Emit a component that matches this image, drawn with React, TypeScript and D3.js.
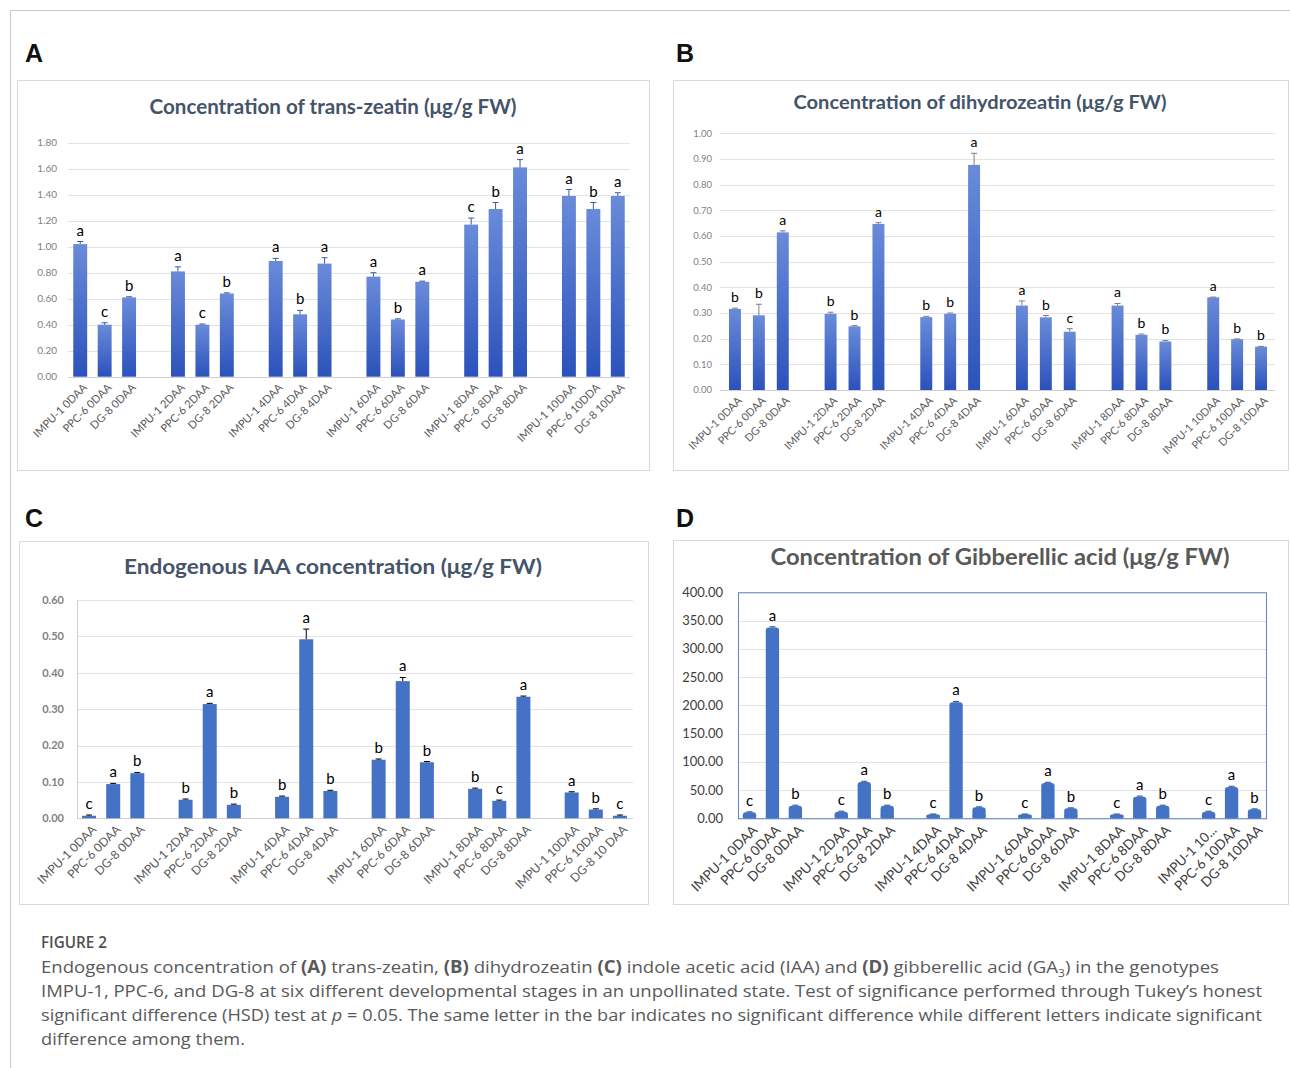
import * as d3 from 'd3';

// ---- data ----
const labelsA = [
  'IMPU-1 0DAA', 'PPC-6 0DAA', 'DG-8 0DAA',
  'IMPU-1 2DAA', 'PPC-6 2DAA', 'DG-8 2DAA',
  'IMPU-1 4DAA', 'PPC-6 4DAA', 'DG-8 4DAA',
  'IMPU-1 6DAA', 'PPC-6 6DAA', 'DG-8 6DAA',
  'IMPU-1 8DAA', 'PPC-6 8DAA', 'DG-8 8DAA',
  'IMPU-1 10DAA', 'PPC-6 10DDA', 'DG-8 10DAA',
];
const valuesA = [1.02, 0.40, 0.61, 0.81, 0.40, 0.64, 0.89, 0.48, 0.87, 0.77, 0.44, 0.73, 1.17, 1.29, 1.61, 1.39, 1.29, 1.39];
const errorsA = [0.02, 0.015, 0.005, 0.035, 0.005, 0.005, 0.02, 0.03, 0.045, 0.03, 0.005, 0.005, 0.05, 0.05, 0.06, 0.05, 0.05, 0.025];
const lettersA = ['a', 'c', 'b', 'a', 'c', 'b', 'a', 'b', 'a', 'a', 'b', 'a', 'c', 'b', 'a', 'a', 'b', 'a'];

const labelsB = [
  'IMPU-1 0DAA', 'PPC-6 0DAA', 'DG-8 0DAA',
  'IMPU-1 2DAA', 'PPC-6 2DAA', 'DG-8 2DAA',
  'IMPU-1 4DAA', 'PPC-6 4DAA', 'DG-8 4DAA',
  'IMPU-1 6DAA', 'PPC-6 6DAA', 'DG-8 6DAA',
  'IMPU-1 8DAA', 'PPC-6 8DAA', 'DG-8 8DAA',
  'IMPU-1 10DAA', 'PPC-6 10DAA', 'DG-8 10DAA',
];
const valuesB = [0.316, 0.291, 0.614, 0.297, 0.248, 0.647, 0.284, 0.297, 0.877, 0.329, 0.283, 0.227, 0.329, 0.215, 0.189, 0.361, 0.198, 0.169];
const errorsB = [0.003, 0.043, 0.006, 0.006, 0.003, 0.005, 0.003, 0.003, 0.045, 0.018, 0.007, 0.012, 0.008, 0.003, 0.004, 0.001, 0.001, 0.001];
const lettersB = ['b', 'b', 'a', 'b', 'b', 'a', 'b', 'b', 'a', 'a', 'b', 'c', 'a', 'b', 'b', 'a', 'b', 'b'];

const labelsC = [
  'IMPU-1 0DAA', 'PPC-6 0DAA', 'DG-8 0DAA',
  'IMPU-1 2DAA', 'PPC-6 2DAA', 'DG-8 2DAA',
  'IMPU-1 4DAA', 'PPC-6 4DAA', 'DG-8 4DAA',
  'IMPU-1 6DAA', 'PPC-6 6DAA', 'DG-8 6DAA',
  'IMPU-1 8DAA', 'PPC-6 8DAA', 'DG-8 8DAA',
  'IMPU-1 10DAA', 'PPC-6 10DAA', 'DG-8 10 DAA',
];
const valuesC = [0.007, 0.094, 0.124, 0.051, 0.314, 0.037, 0.059, 0.492, 0.075, 0.161, 0.377, 0.154, 0.081, 0.048, 0.334, 0.071, 0.024, 0.007];
const errorsC = [0.002, 0.002, 0.002, 0.002, 0.002, 0.002, 0.002, 0.028, 0.002, 0.002, 0.01, 0.002, 0.002, 0.002, 0.002, 0.002, 0.002, 0.002];
const lettersC = ['c', 'a', 'b', 'b', 'a', 'b', 'b', 'a', 'b', 'b', 'a', 'b', 'b', 'c', 'a', 'a', 'b', 'c'];

const labelsD = [
  'IMPU-1 0DAA', 'PPC-6 0DAA', 'DG-8 0DAA',
  'IMPU-1 2DAA', 'PPC-6 2DAA', 'DG-8 2DAA',
  'IMPU-1 4DAA', 'PPC-6 4DAA', 'DG-8 4DAA',
  'IMPU-1 6DAA', 'PPC-6 6DAA', 'DG-8 6DAA',
  'IMPU-1 8DAA', 'PPC-6 8DAA', 'DG-8 8DAA',
  'IMPU-1 10...', 'PPC-6 10DAA', 'DG-8 10DAA',
];
const valuesD = [10.6, 337.5, 22.4, 11.8, 64.3, 22.4, 7.1, 205.3, 19.5, 7.1, 62.5, 17.7, 7.1, 38.3, 22.4, 11.8, 55.5, 15.9];
const errorsD = [0.8, 1.5, 0.8, 0.8, 1.2, 0.8, 0.5, 1.5, 0.8, 0.5, 1.2, 0.8, 0.5, 1, 0.8, 0.8, 1.2, 0.8];
const lettersD = ['c', 'a', 'b', 'c', 'a', 'b', 'c', 'a', 'b', 'c', 'a', 'b', 'c', 'a', 'b', 'c', 'a', 'b'];

const titles = [
  'Concentration of trans-zeatin (μg/g FW)',
  'Concentration of dihydrozeatin (μg/g FW)',
  'Endogenous IAA concentration (μg/g FW)',
  'Concentration of Gibberellic acid (μg/g FW)',
];

const FONT = 'Lato, "Open Sans", sans-serif';

// bars sit in 4-slot groups: 3 bars + 1 gap
const slotOf = (i: number) => i + Math.floor(i / 3);

type PanelCfg = {
  id: string;
  box: [number, number, number, number];
  title: string;
  titleX: number; titleY: number; titleSize: number; titleLen: number;
  titleWeight: number; titleColor: string;
  x0: number; x1: number; gx0: number; gx1: number;
  yTop: number; yBot: number; yMax: number; step: number;
  tickX: number; tickSize: number; tickColor: string; tickWeight: number;
  labelSize: number; labelColor: string;
  letterSize: number; pad: number;
  gradient: boolean; errColor: string;
  leftAxis?: boolean; frame?: boolean; rounded?: boolean;
  labels: string[]; values: number[]; errors: number[]; letters: string[];
};

function Panel({ c }: { c: PanelCfg }) {
  const x = d3.scaleBand<number>().domain(d3.range(23)).range([c.x0, c.x1]).paddingInner(c.pad).paddingOuter(c.pad / 2);
  const y = d3.scaleLinear().domain([0, c.yMax]).range([c.yBot, c.yTop]);
  const ticks = d3.range(0, c.yMax + c.step / 2, c.step);
  const fmt = d3.format('.2f');
  const bw = x.bandwidth();
  return (
    <g>
      <rect x={c.box[0] + 0.5} y={c.box[1] + 0.5} width={c.box[2]} height={c.box[3]} fill="#fff" stroke="#d9d9d9" />
      <text x={c.titleX} y={c.titleY} textAnchor="middle" fontFamily={FONT} fontSize={c.titleSize}
        fontWeight={c.titleWeight} fill={c.titleColor} textLength={c.titleLen} lengthAdjust="spacingAndGlyphs">{c.title}</text>
      {ticks.map((t, i) => (
        <g key={i}>
          <line x1={c.gx0} x2={c.gx1} y1={Math.round(y(t)) + 0.5} y2={Math.round(y(t)) + 0.5}
            stroke={i === 0 ? '#d0d0d0' : '#e3e3e3'} strokeWidth={1} />
          <text x={c.tickX} y={y(t)} dy="0.35em" textAnchor="end" fontFamily={FONT} fontSize={c.tickSize}
            fontWeight={c.tickWeight} fill={c.tickColor}>{fmt(t)}</text>
        </g>
      ))}
      {c.leftAxis && <line x1={c.gx0 + 0.5} x2={c.gx0 + 0.5} y1={c.yTop} y2={c.yBot} stroke="#d0d0d0" />}
      {c.frame && <rect x={c.x0 + 0.5} y={c.yTop + 0.5} width={c.x1 - c.x0} height={c.yBot - c.yTop} fill="none" stroke="#5b86c4" />}
      {c.values.map((v, i) => {
        const cx = (x(slotOf(i)) as number) + bw / 2;
        const top = y(v);
        const et = y(v + c.errors[i]);
        return (
          <g key={i}>
            <rect x={cx - bw / 2} y={top} width={bw} height={c.yBot - top}
              fill={c.gradient ? `url(#grad-${c.id})` : '#4472c4'} rx={c.rounded ? 3 : 0} />
            {c.rounded && <rect x={cx - bw / 2} y={c.yBot - 3} width={bw} height={3} fill="#4472c4" />}
            <line x1={cx} x2={cx} y1={top} y2={et} stroke={c.errColor} strokeWidth={1} />
            <line x1={cx - 3} x2={cx + 3} y1={et} y2={et} stroke={c.errColor} strokeWidth={1} />
            <text x={cx} y={et - 6} textAnchor="middle" fontFamily={FONT} fontSize={c.letterSize} fill="#000">{c.letters[i]}</text>
            <text transform={`translate(${cx + 2},${c.yBot + 6}) rotate(-45)`} dy="0.71em" textAnchor="end"
              fontFamily={FONT} fontSize={c.labelSize} fill={c.labelColor}>{c.labels[i]}</text>
          </g>
        );
      })}
    </g>
  );
}

const panels: PanelCfg[] = [
  {
    id: 'A', box: [17, 80, 632, 390], title: titles[0],
    titleX: 333, titleY: 114, titleSize: 20, titleLen: 367, titleWeight: 700, titleColor: '#44546a',
    x0: 68, x1: 630, gx0: 68, gx1: 630, yTop: 142.7, yBot: 376.7, yMax: 1.8, step: 0.2,
    tickX: 57, tickSize: 10, tickColor: '#7f7f7f', tickWeight: 400,
    labelSize: 11, labelColor: '#595959', letterSize: 15, pad: 0.43,
    gradient: true, errColor: '#3c5a9a',
    labels: labelsA, values: valuesA, errors: errorsA, letters: lettersA,
  },
  {
    id: 'B', box: [673, 80, 615, 390], title: titles[1],
    titleX: 980, titleY: 109, titleSize: 18, titleLen: 373, titleWeight: 700, titleColor: '#44546a',
    x0: 723, x1: 1273, gx0: 720, gx1: 1275, yTop: 133.3, yBot: 390, yMax: 1.0, step: 0.1,
    tickX: 712, tickSize: 9.5, tickColor: '#7f7f7f', tickWeight: 400,
    labelSize: 10.8, labelColor: '#595959', letterSize: 14, pad: 0.5,
    gradient: true, errColor: '#7f7f7f',
    labels: labelsB, values: valuesB, errors: errorsB, letters: lettersB,
  },
  {
    id: 'C', box: [19, 541, 629, 363], title: titles[2],
    titleX: 333, titleY: 574, titleSize: 20, titleLen: 418, titleWeight: 700, titleColor: '#44546a',
    x0: 77, x1: 632, gx0: 77, gx1: 633, yTop: 600, yBot: 818.3, yMax: 0.6, step: 0.1,
    tickX: 64, tickSize: 11, tickColor: '#7f7f7f', tickWeight: 700,
    labelSize: 12, labelColor: '#595959', letterSize: 15, pad: 0.42,
    gradient: false, errColor: '#000', leftAxis: true,
    labels: labelsC, values: valuesC, errors: errorsC, letters: lettersC,
  },
  {
    id: 'D', box: [673, 540, 615, 364], title: titles[3],
    titleX: 1000, titleY: 565, titleSize: 22, titleLen: 459, titleWeight: 700, titleColor: '#595959',
    x0: 738, x1: 1266, gx0: 738, gx1: 1266, yTop: 592.3, yBot: 818.3, yMax: 400, step: 50,
    tickX: 723, tickSize: 13, tickColor: '#404040', tickWeight: 400,
    labelSize: 13.5, labelColor: '#404040', letterSize: 15, pad: 0.42,
    gradient: false, errColor: '#2f4f8f', frame: true, rounded: true,
    labels: labelsD, values: valuesD, errors: errorsD, letters: lettersD,
  },
];

const CAP = '#58595b';

export default function App() {
  return (
    <svg width={1290} height={1068} style={{ position: 'absolute', left: 0, top: 0, background: '#fff' }}>
      <defs>
        {['A', 'B'].map((id) => (
          <linearGradient key={id} id={`grad-${id}`} x1="0" y1="0" x2="0" y2="1">
            <stop offset="0%" stopColor="#6a8bd9" />
            <stop offset="100%" stopColor="#2b52bb" />
          </linearGradient>
        ))}
      </defs>
      <rect width={1290} height={1068} fill="#fff" />
      <line x1={10} x2={1290} y1={10.5} y2={10.5} stroke="#c8c8c8" />
      <line x1={10.5} x2={10.5} y1={10} y2={1068} stroke="#c8c8c8" />

      {[['A', 25, 62], ['B', 676, 62], ['C', 25, 527], ['D', 676, 527]].map(([l, px, py]) => (
        <text key={l as string} x={px as number} y={py as number} fontFamily='"Liberation Sans", Arial, sans-serif'
          fontWeight={700} fontSize={25} fill="#111">{l}</text>
      ))}

      {panels.map((p) => <Panel key={p.id} c={p} />)}

      <g fontFamily='"Open Sans", Lato, sans-serif' fill={CAP} fontSize={17}>
        <text x={41} y={948} textLength={66} lengthAdjust="spacingAndGlyphs" fontWeight={600} fill="#505050">FIGURE 2</text>
        <text x={41} y={973} textLength={1178} lengthAdjust="spacingAndGlyphs">
          Endogenous concentration of <tspan fontWeight={700}>(A)</tspan> trans-zeatin, <tspan fontWeight={700}>(B)</tspan> dihydrozeatin <tspan fontWeight={700}>(C)</tspan> indole acetic acid (IAA) and <tspan fontWeight={700}>(D)</tspan> gibberellic acid (GA<tspan fontSize={11} dy={4}>3</tspan><tspan dy={-4}>) in the genotypes</tspan>
        </text>
        <text x={41} y={997} textLength={1221} lengthAdjust="spacingAndGlyphs">
          IMPU-1, PPC-6, and DG-8 at six different developmental stages in an unpollinated state. Test of significance performed through Tukey’s honest
        </text>
        <text x={41} y={1021} textLength={1221} lengthAdjust="spacingAndGlyphs">
          significant difference (HSD) test at <tspan fontStyle="italic">p</tspan> = 0.05. The same letter in the bar indicates no significant difference while different letters indicate significant
        </text>
        <text x={41} y={1045} textLength={204} lengthAdjust="spacingAndGlyphs">difference among them.</text>
      </g>
    </svg>
  );
}
